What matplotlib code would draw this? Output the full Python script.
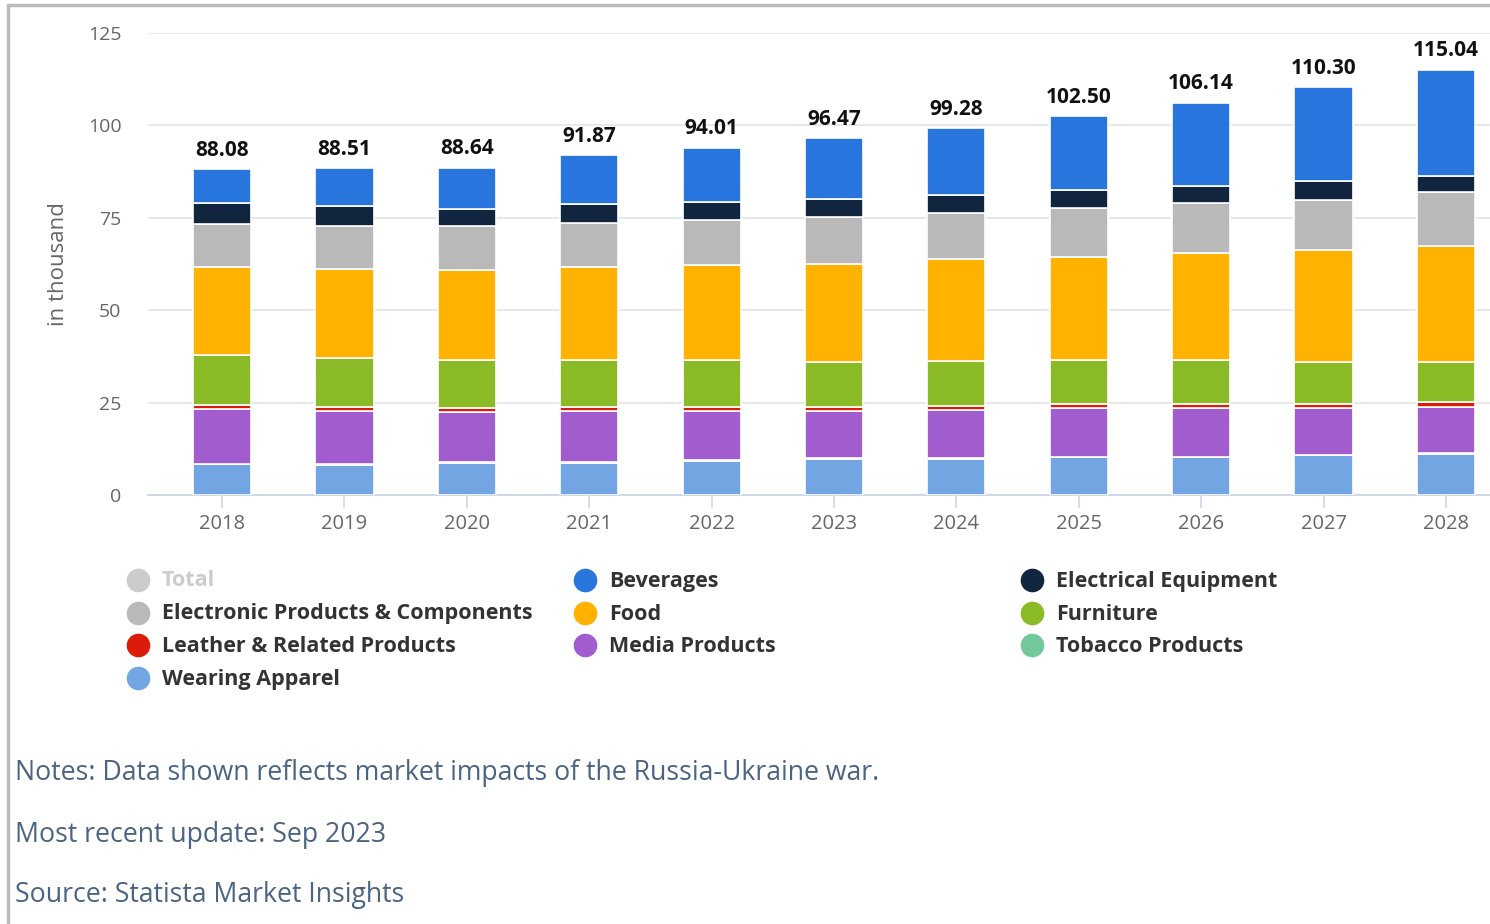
import numpy as np
import matplotlib.pyplot as plt
from matplotlib.lines import Line2D

# Datos (en miles)
years = ["2018", "2019", "2020", "2021", "2022", "2023", "2024", "2025", "2026", "2027", "2028"]
totals = [88.08, 88.51, 88.64, 91.87, 94.01, 96.47, 99.28, 102.50, 106.14, 110.30, 115.04]

wearing = [8.4, 8.2, 8.7, 8.7, 9.3, 9.8, 9.8, 10.3, 10.3, 10.7, 11.2]
tobacco = [0.1, 0.1, 0.1, 0.1, 0.1, 0.1, 0.1, 0.1, 0.1, 0.1, 0.1]
media = [14.8, 14.5, 13.6, 14.0, 13.4, 12.9, 13.0, 13.1, 13.1, 12.7, 12.6]
leather = [1.0, 1.1, 1.1, 1.1, 1.1, 1.1, 1.1, 1.1, 1.1, 1.1, 1.2]
furniture = [13.5, 13.1, 12.9, 12.6, 12.6, 12.1, 12.2, 11.8, 11.8, 11.3, 10.8]
food = [23.9, 24.2, 24.6, 25.2, 25.6, 26.6, 27.6, 28.0, 29.2, 30.5, 31.5]
electronic = [11.5, 11.7, 11.7, 12.0, 12.4, 12.7, 12.6, 13.2, 13.5, 13.5, 14.7]
electrical = [5.8, 5.3, 4.8, 4.9, 4.7, 4.8, 4.8, 4.8, 4.4, 5.0, 4.3]
beverages = [9.1, 10.3, 11.1, 13.3, 14.8, 16.4, 18.1, 20.1, 22.6, 25.4, 28.6]

# de abajo hacia arriba
series = [
    ("Wearing Apparel", wearing, "#74a5e3"),
    ("Tobacco Products", tobacco, "#72c89b"),
    ("Media Products", media, "#a15ccd"),
    ("Leather & Related Products", leather, "#dc1c0a"),
    ("Furniture", furniture, "#8aba25"),
    ("Food", food, "#ffb200"),
    ("Electronic Products & Components", electronic, "#b9b9b9"),
    ("Electrical Equipment", electrical, "#11263e"),
    ("Beverages", beverages, "#2876dd"),
]
colors = {name: c for name, _, c in series}

fig = plt.figure(figsize=(14.9, 9.24), dpi=100)
ax = fig.add_axes([148 / 1490, 1 - 495 / 924, 1 - 148 / 1490, (495 - 33) / 924])

x = np.arange(len(years))
bottom = np.zeros(len(years))
for name, vals, col in series:
    vals = np.array(vals)
    ax.bar(x, vals, width=0.475, bottom=bottom, color=col, edgecolor="white", linewidth=1.2, zorder=3)
    bottom += vals

for xi, t in zip(x, totals):
    ax.annotate(f"{t:.2f}", (xi, t), xytext=(0, 6), textcoords="offset points",
                ha="center", va="bottom", fontsize=15, fontweight="bold", color="#111111",
                family="Open Sans")

ax.set_xlim(-0.605, 10.36)
ax.set_ylim(0, 125)
ax.set_yticks([0, 25, 50, 75, 100, 125])
ax.set_xticks(x)
ax.set_xticklabels(years)
ax.grid(axis="y", color="#e6e6e6", linewidth=1.3, zorder=0)
for s in ["top", "right", "left"]:
    ax.spines[s].set_visible(False)
ax.spines["bottom"].set_color("#ccd6eb")
ax.spines["bottom"].set_linewidth(1.3)
ax.tick_params(axis="y", length=0, pad=19, labelsize=14, labelcolor="#666666")
ax.tick_params(axis="x", length=9, width=1.2, color="#ccd6eb", pad=5, labelsize=14.5, labelcolor="#666666")
for lab in ax.get_xticklabels() + ax.get_yticklabels():
    lab.set_family("Open Sans")
ax.set_ylabel("in thousand", fontsize=16, color="#666666", family="Open Sans", labelpad=14)

# Leyenda manual (orden de Highcharts, por filas)
legend_items = [("Total", "#cccccc"), ("Beverages", None), ("Electrical Equipment", None),
                ("Electronic Products & Components", None), ("Food", None), ("Furniture", None),
                ("Leather & Related Products", None), ("Media Products", None), ("Tobacco Products", None),
                ("Wearing Apparel", None)]
col_x = [138, 585, 1032]
row_y = [581, 614, 646, 679]
for i, (name, c) in enumerate(legend_items):
    cx = col_x[i % 3]
    cy = row_y[i // 3]
    mcol = c if c else colors[name]
    tcol = "#cccccc" if name == "Total" else "#333333"
    fig.add_artist(Line2D([cx / 1490], [1 - (cy - 1) / 924], marker="o", markersize=16,
                          color=mcol, linestyle="none", transform=fig.transFigure))
    fig.text((cx + 24) / 1490, 1 - cy / 924, name, fontsize=15.5, fontweight="bold",
             color=tcol, va="center", ha="left", family="Open Sans")

notes = ["Notes: Data shown reflects market impacts of the Russia-Ukraine war.",
         "Most recent update: Sep 2023",
         "Source: Statista Market Insights"]
for txt, ny in zip(notes, [773, 835, 895]):
    fig.text(15 / 1490, 1 - ny / 924, txt, fontsize=19.2, color="#4a6482",
             va="center", ha="left", family="Open Sans")

# marco
fig.add_artist(Line2D([8 / 1490, 8 / 1490, 1], [0, 1 - 5 / 924, 1 - 5 / 924],
                      color="#bbbbbb", linewidth=2.5, transform=fig.transFigure))

fig.savefig("out.png", dpi=100)
